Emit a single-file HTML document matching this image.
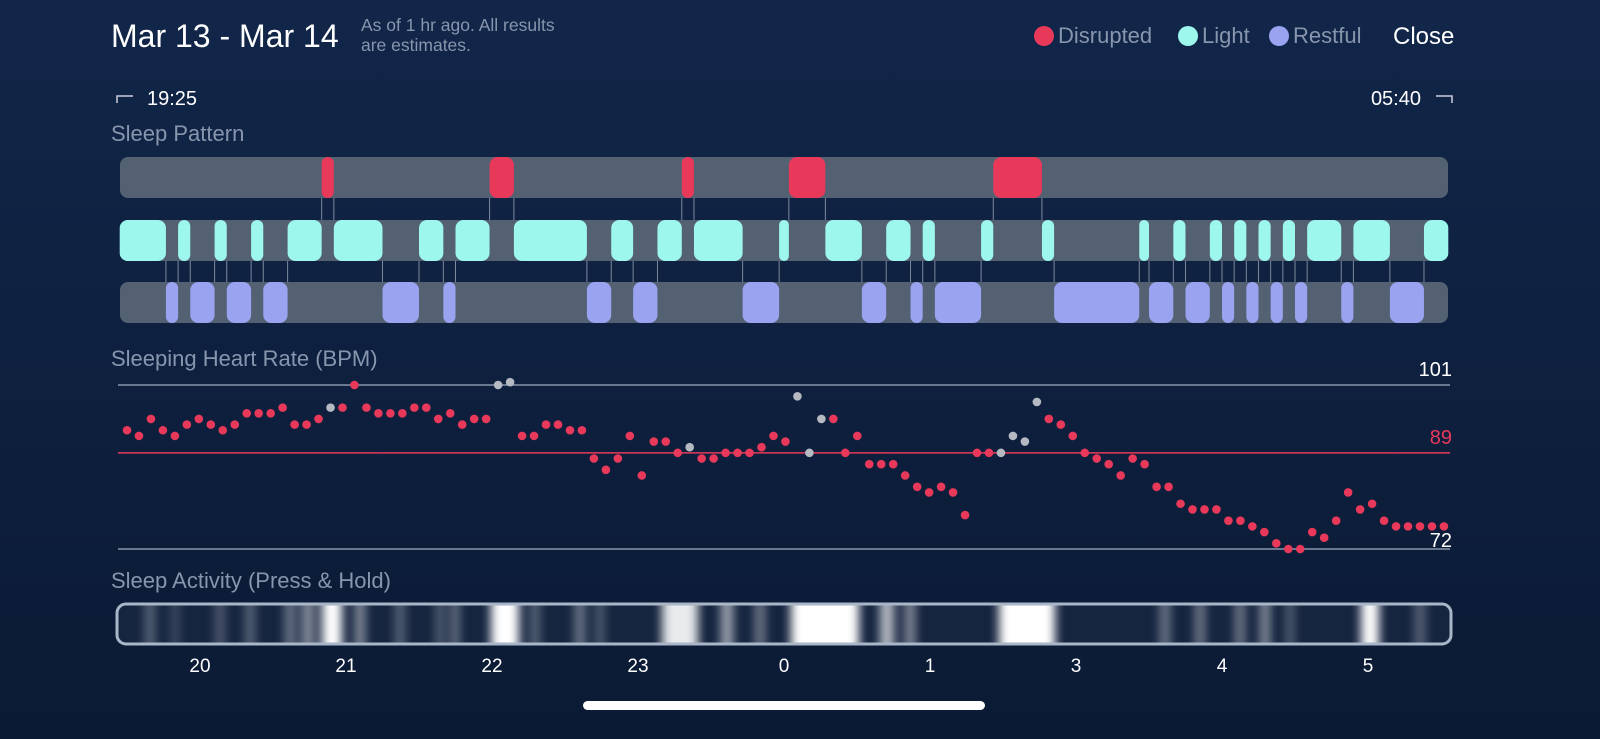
<!DOCTYPE html>
<html><head><meta charset="utf-8"><style>
html,body{margin:0;padding:0;width:1600px;height:739px;overflow:hidden;background:linear-gradient(#112649,#0b1a34);font-family:"Liberation Sans",sans-serif}
svg{position:absolute;left:0;top:0}
</style></head><body>
<svg id="c" width="1600" height="739">
<defs>
<filter id="blur" x="-5%" y="0" width="110%" height="100%"><feGaussianBlur stdDeviation="5 0"/></filter>
<clipPath id="actclip"><rect x="118" y="605" width="1332" height="38" rx="8"/></clipPath>
</defs>
<text x="111" y="47" font-size="32" fill="#fff">Mar 13 - Mar 14</text>
<text x="361" y="31" font-size="17.5" fill="#8796ad">As of 1 hr ago. All results</text>
<text x="361" y="51" font-size="17.5" fill="#8796ad">are estimates.</text>
<g>
<circle cx="1044" cy="36" r="10" fill="#e8395a"/>
<text x="1058" y="43" font-size="22" fill="#8796ad">Disrupted</text>
<circle cx="1188" cy="36" r="10" fill="#9ef7ec"/>
<text x="1202" y="43" font-size="22" fill="#8796ad">Light</text>
<circle cx="1279" cy="36" r="10" fill="#9aa3f0"/>
<text x="1293" y="43" font-size="22" fill="#8796ad">Restful</text>
</g>
<text x="1393" y="44" font-size="24" fill="#fff">Close</text>
<path d="M117 103 V96 H133" stroke="#ccd" fill="none" stroke-width="1.5"/>
<text x="147" y="105" font-size="20" fill="#fff">19:25</text>
<text x="1421" y="105" font-size="20" fill="#fff" text-anchor="end">05:40</text>
<path d="M1436 96 H1452 V103" stroke="#ccd" fill="none" stroke-width="1.5"/>
<text x="111" y="141" font-size="22" fill="#8796ad">Sleep Pattern</text>
<text x="111" y="366" font-size="22" fill="#8796ad">Sleeping Heart Rate (BPM)</text>
<text x="111" y="588" font-size="22" fill="#8796ad">Sleep Activity (Press &amp; Hold)</text>
<g id="pattern"></g>
<g id="hr"></g>
<g id="act"></g>
<g id="xaxis"></g>
<rect x="583" y="701" width="402" height="9" rx="4.5" fill="#fff"/>
</svg>
<script>
// minutes after 19:00
const stageStages = ['L','R','L','R','L','R','L','R','L','D','L','R','L','R','L','D','L','R','L','R','L','D','L','R','L','D','L','R','L','R','L','R','L','D',
'L','R','L','R','L','R','L','R','L','R','L','R','L','R','L','R','L','R','L'];
const stageStarts = [27,46,51,56,66,71,81,86,96,110,115,135,150,160,165,179,189,219,229,238,248,258,263,283,298,302,317,332,342,352,357,362,381,386,406,411,446,450,460,465,475,480,485,490,495,500,505,510,515,529,534,549,563];
const sleepEnd = 573;
const hrValues = [93,92,95,93,92,94,95,94,93,94,96,96,96,97,94,94,95,97,97,101,97,96,96,96,97,97,95,96,94,95,95,101,101.5,
92,92,94,94,93,93,88,86,88,92,85,91,91,89,90,88,88,89,89,89,90,92,91,99,89,95,95,89,92,87,87,87,85,83,82,83,82,78,
89,89,89,92,91,98,95,94,92,89,88,87,85,88,87,83,83,80,79,79,79,77,77,76,75,73,72,72,75,74,77,82,79,80,77,76,76,76,76,76];
const hrGray = [17,31,32,47,56,57,58,73,74,75,76];
const hrStartMin = 30, hrStepMin = 4.92;
const hrRefLines = [101,89,72];
const hourLabels = ['20','21','22','23','0','1','3','4','5'];
const activityCenters = [150,175,220,250,290,308,332,360,400,440,455,505,535,580,600,680,727,760,825,887,910,1027,1165,1200,1240,1265,1290,1370,1420];
const activityWidths  = [10,8,10,10,10,12,20,10,10,8,8,28,10,10,8,36,12,10,68,14,10,56,10,10,10,10,8,18,10];
const activityLevels  = [0.3,0.2,0.25,0.3,0.4,0.5,1.0,0.5,0.3,0.3,0.4,1.0,0.3,0.4,0.3,0.9,0.6,0.4,1.0,0.7,0.5,1.0,0.4,0.4,0.4,0.5,0.3,1.0,0.3];

const NS='http://www.w3.org/2000/svg';
const xMin = m => 200 + (m-60)*146/60;
const yBpm = b => 385 + (101-b)*164/29;
function mk(tag, attrs, parent){const e=document.createElementNS(NS,tag);for(const k in attrs)e.setAttribute(k,attrs[k]);parent.appendChild(e);return e;}

const pat=document.getElementById('pattern');
const rows={D:157,L:220,R:282}, rowH=41;
const colors={D:'#e8395a',L:'#9ef7ec',R:'#9aa3f0'};
['D','L','R'].forEach(k=>{
  const t=mk('rect',{x:120,y:rows[k],width:1328,height:rowH,rx:8,fill:'#536173'},pat);
  
  
});
for(let i=1;i<stageStages.length;i++){
  const a=stageStages[i-1], b=stageStages[i];
  const top=Math.min(rows[a],rows[b])+rowH, bot=Math.max(rows[a],rows[b]);
  const x=xMin(stageStarts[i]);
  const l=mk('line',{x1:x,x2:x,y1:top,y2:bot,stroke:'#7d8a9c','stroke-width':1},pat);
  
  
}
for(let i=0;i<stageStages.length;i++){
  const s=stageStages[i], x0=xMin(stageStarts[i]), x1=xMin(i+1<stageStarts.length?stageStarts[i+1]:sleepEnd);
  const r=mk('rect',{x:x0,y:rows[s],width:x1-x0,height:rowH,rx:Math.min(8,(x1-x0)/2),fill:colors[s]},pat);
  
  
}

const hr=document.getElementById('hr');
hrRefLines.forEach((v,i)=>{
  const y=yBpm(v);
  const ln=mk('line',{x1:118,x2:1450,y1:y,y2:y,stroke:i==1?'#e8395a':'#8896ab','stroke-width':1.5},hr);
  
  
  const t=mk('text',{x:1452,y:i==2?y-2:y-9,'text-anchor':'end','font-size':20,fill:i==1?'#e8395a':'#fff'},hr);
  t.textContent=v;
  
  
});
hrValues.forEach((v,i)=>{
  const g=hrGray.includes(i);
  const c=mk('circle',{cx:xMin(hrStartMin+i*hrStepMin),cy:yBpm(v),r:4.3,fill:g?'#b4b9c2':'#e8395a'},hr);
  
  
});

const act=document.getElementById('act');
const ag=mk('g',{'clip-path':'url(#actclip)'},act);
mk('rect',{x:118,y:605,width:1332,height:38,fill:'#15243f'},ag);
const bl=mk('g',{filter:'url(#blur)'},ag);
activityCenters.forEach((c,i)=>{
  const r=mk('rect',{x:c-activityWidths[i]/2,y:600,width:activityWidths[i],height:48,fill:'#fff','fill-opacity':activityLevels[i]},bl);
  
  
});
const fr=mk('rect',{x:117,y:604,width:1334,height:40,rx:9,fill:'none',stroke:'#a9b6c8','stroke-width':3},act);



const xa=document.getElementById('xaxis');
hourLabels.forEach((h,i)=>{
  const t=mk('text',{x:xMin(60+i*60),y:672,'text-anchor':'middle','font-size':19,fill:'#fff'},xa);
  t.textContent=h;
  
  
});
</script>
</body></html>
